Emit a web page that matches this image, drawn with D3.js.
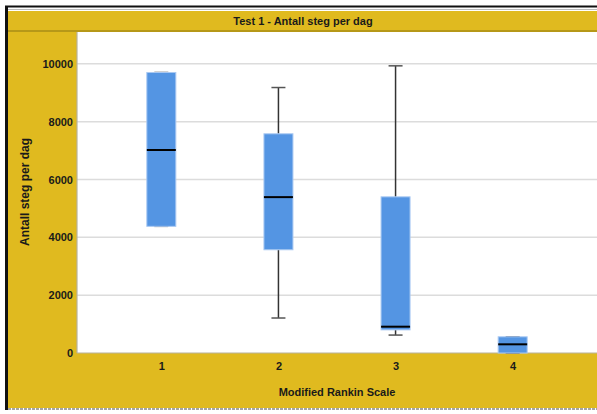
<!DOCTYPE html>
<html>
<head>
<meta charset="utf-8">
<script src="https://cdn.jsdelivr.net/npm/d3@7"></script>
<style>
  body { margin: 0; background: #fff; }
  text { font-family: "Liberation Sans", Arial, sans-serif; font-weight: bold; fill: #1a1a1a; }
</style>
</head>
<body>
<svg id="chart" width="597" height="414"></svg>
<script>
// Modified Rankin Scale groups and box-plot statistics (steps per day)
const categories = ["1", "2", "3", "4"];
const whiskerLow = [4380, 1210, 620, 0];
const q1 = [4380, 3570, 800, 0];
const median = [7020, 5390, 910, 300];
const q3 = [9700, 7580, 5400, 560];
const whiskerHigh = [9700, 9180, 9930, 560];
const yTicks = [0, 2000, 4000, 6000, 8000, 10000];

const title = "Test 1 - Antall steg per dag";
const xTitle = "Modified Rankin Scale";
const yTitle = "Antall steg per dag";

const gold = "#e0ba1f";
const boxFill = "#5495e3";

const svg = d3.select("#chart");
const plot = { left: 77, top: 32, right: 597, bottom: 353 };

// Frame and panel backgrounds
svg.append("rect").attr("x", 8).attr("y", 11).attr("width", 589).attr("height", 397).attr("fill", gold);
svg.append("line").attr("x1", 5).attr("x2", 597).attr("y1", 6.5).attr("y2", 6.5)
  .attr("stroke", "#111").attr("stroke-width", 2);
svg.append("line").attr("x1", 6.5).attr("x2", 6.5).attr("y1", 6).attr("y2", 410)
  .attr("stroke", "#111").attr("stroke-width", 3);
svg.append("line").attr("x1", 8).attr("x2", 597).attr("y1", 9.5).attr("y2", 9.5)
  .attr("stroke", "#bbb").attr("stroke-width", 1);
svg.append("line").attr("x1", 8).attr("x2", 597).attr("y1", 31).attr("y2", 31)
  .attr("stroke", "#a88c17").attr("stroke-width", 1.5);
svg.append("line").attr("x1", 8).attr("x2", 597).attr("y1", 409).attr("y2", 409)
  .attr("stroke", "#888").attr("stroke-width", 1.5).attr("stroke-dasharray", "3,1");

svg.append("rect").attr("x", plot.left).attr("y", plot.top)
  .attr("width", plot.right - plot.left).attr("height", plot.bottom - plot.top)
  .attr("fill", "#fff");

// Scales
const x = d3.scalePoint().domain(categories).range([plot.left, plot.right]).padding(0.72);
const y = d3.scaleLinear().domain([0, 11100]).range([plot.bottom, plot.top]);

// Gridlines
svg.append("g").selectAll("line").data(yTicks.slice(1)).join("line")
  .attr("x1", plot.left).attr("x2", plot.right)
  .attr("y1", d => y(d)).attr("y2", d => y(d))
  .attr("stroke", "#dcdcdc").attr("stroke-width", 1.5);

// Plot border (left and bottom)
svg.append("line").attr("x1", plot.left).attr("x2", plot.left).attr("y1", plot.top).attr("y2", plot.bottom)
  .attr("stroke", "#b8b29a").attr("stroke-width", 1.2);
svg.append("line").attr("x1", plot.left).attr("x2", plot.right).attr("y1", plot.bottom).attr("y2", plot.bottom)
  .attr("stroke", "#b8b29a").attr("stroke-width", 1.2);

// Y axis
const yAxis = svg.append("g").attr("transform", `translate(${plot.left},0)`)
  .call(d3.axisLeft(y).tickValues(yTicks).tickSize(0).tickPadding(4).tickFormat(d3.format("d")));
yAxis.select(".domain").remove();
yAxis.selectAll("text").style("font-size", "11px").style("font-family", "'Liberation Sans', Arial, sans-serif");

// X axis
const xAxis = svg.append("g").attr("transform", `translate(0,${plot.bottom})`)
  .call(d3.axisBottom(x).tickSize(0).tickPadding(9));
xAxis.select(".domain").remove();
xAxis.selectAll("text").style("font-size", "11px").style("font-family", "'Liberation Sans', Arial, sans-serif");

// Titles
svg.append("text").attr("x", 303).attr("y", 25).attr("text-anchor", "middle")
  .style("font-size", "11px").text(title);
svg.append("text").attr("x", 337).attr("y", 396).attr("text-anchor", "middle")
  .style("font-size", "11px").text(xTitle);
svg.append("text").attr("transform", "translate(29,192) rotate(-90)").attr("text-anchor", "middle")
  .style("font-size", "12px").text(yTitle);

// Box plots
const boxW = 29, capW = 14;
const rows = categories.map((c, i) => ({
  c, lo: whiskerLow[i], q1: q1[i], med: median[i], q3: q3[i], hi: whiskerHigh[i]
}));

const g = svg.append("g").selectAll("g").data(rows).join("g")
  .attr("transform", d => `translate(${x(d.c)},0)`);

// Whiskers
g.append("line").attr("x1", 0).attr("x2", 0)
  .attr("y1", d => y(d.hi)).attr("y2", d => y(d.q3))
  .attr("stroke", "#333").attr("stroke-width", 1.5);
g.append("line").attr("x1", 0).attr("x2", 0)
  .attr("y1", d => y(d.q1)).attr("y2", d => y(d.lo))
  .attr("stroke", "#333").attr("stroke-width", 1.5);
g.append("line").attr("x1", -capW / 2).attr("x2", capW / 2)
  .attr("y1", d => y(d.hi)).attr("y2", d => y(d.hi))
  .attr("stroke", "#555").attr("stroke-width", 1.5);
g.append("line").attr("x1", -capW / 2).attr("x2", capW / 2)
  .attr("y1", d => y(d.lo)).attr("y2", d => y(d.lo))
  .attr("stroke", "#555").attr("stroke-width", 1.5);

// Boxes
g.append("rect").attr("x", -boxW / 2).attr("width", boxW)
  .attr("y", d => y(d.q3)).attr("height", d => y(d.q1) - y(d.q3))
  .attr("fill", boxFill).attr("stroke", "#a9c9f2").attr("stroke-width", 1);

// Medians
g.append("line").attr("x1", -boxW / 2).attr("x2", boxW / 2)
  .attr("y1", d => y(d.med)).attr("y2", d => y(d.med))
  .attr("stroke", "#000").attr("stroke-width", 2);
</script>
</body>
</html>
